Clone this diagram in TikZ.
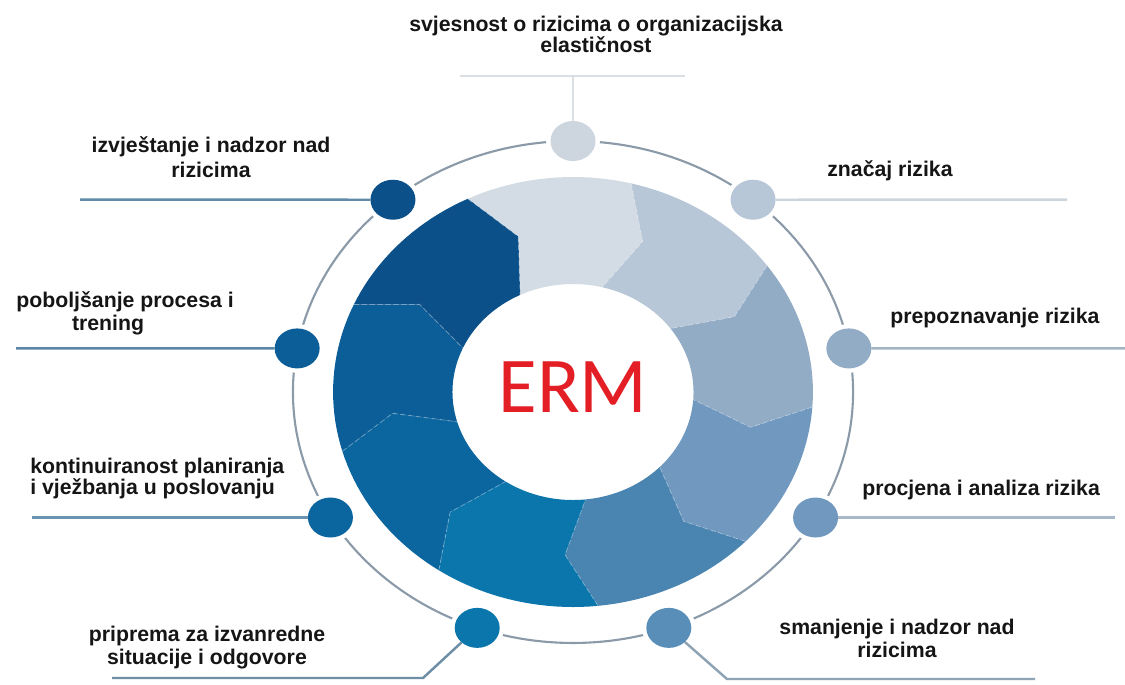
\documentclass[tikz,border=0pt]{standalone}
\usepackage{fontspec}
\setmainfont{Liberation Sans}
\newfontfamily\ermfont{Carlito}
\usetikzlibrary{shapes.geometric}
\definecolor{s0}{HTML}{D3DCE5}
\definecolor{s1}{HTML}{B8C7D7}
\definecolor{s2}{HTML}{92ACC6}
\definecolor{s3}{HTML}{7199BF}
\definecolor{s4}{HTML}{4A84B1}
\definecolor{s5}{HTML}{0B76AC}
\definecolor{s6}{HTML}{0B66A0}
\definecolor{s7}{HTML}{0B5E97}
\definecolor{s8}{HTML}{0B5088}
\definecolor{ringc}{HTML}{8A9AA8}
\definecolor{ermred}{HTML}{E31E24}
\definecolor{txt}{HTML}{151515}
\definecolor{l0}{HTML}{DADFE4}
\definecolor{l1}{HTML}{CDD5DC}
\definecolor{l2}{HTML}{A3B5C5}
\definecolor{l3}{HTML}{A7B9C8}
\definecolor{l4}{HTML}{8EA3B3}
\definecolor{l5}{HTML}{6E8EA6}
\definecolor{l6}{HTML}{6A93B2}
\definecolor{l7}{HTML}{5A86A6}
\definecolor{l8}{HTML}{5F8AA9}
\tikzset{
  dot/.style={ellipse, minimum width=0.9cm, minimum height=0.8cm, inner sep=0pt, outer sep=0pt,
    preaction={draw=white, line width=5pt}},
  conn/.style={line width=1.4pt},
  lbl/.style={font=\bfseries\fontsize{12.1}{13}\selectfont, text=txt, inner sep=0pt},
  seam/.style={white, opacity=0.3, line width=0.5pt, dash pattern=on 3pt off 1.5pt}
}
\begin{document}
\begin{tikzpicture}[x=0.02cm, y=-0.02cm]
\useasboundingbox (0,0) rectangle (1125,684);
\fill[white] (0,0) rectangle (1125,684);
\begin{scope}[shift={(573,392)}, x=0.022324cm, y=0.02cm]
  \foreach \b/\c in {76/s0, 36/s1, -4/s2, -44/s3, -84/s4, -124/s5, -164/s6, -204/s7, -244/s8} {
    \fill[fill=\c] ({\b+40}:215) -- plot[domain=\b+40:\b, samples=21] (\x:215)
      -- ({\b-8.5}:163) -- ({\b}:108) -- plot[domain=\b:\b+40, samples=21] (\x:108)
      -- ({\b+31.5}:163) -- cycle;
  }
  \foreach \b in {76, 36, -4, -44, -84, -124, -164, -204, -244} {
    \draw[seam] ({\b}:215) -- ({\b-8.5}:163) -- ({\b}:108);
  }
  \draw[ringc, line width=1.2pt] (0,0) ellipse [x radius=5.6024cm, y radius=5.02cm];
  \node[dot, fill=s0!97!black] (d0) at (90:251) {};
  \node[dot, fill=s1] (d1) at (50:251) {};
  \node[dot, fill=s2] (d2) at (10:251) {};
  \node[dot, fill=s3] (d3) at (-30:251) {};
  \node[dot, fill=s4!92!white] (d4) at (-70:251) {};
  \node[dot, fill=s5] (d5) at (-110:251) {};
  \node[dot, fill=s6] (d6) at (-150:251) {};
  \node[dot, fill=s7] (d7) at (170:251) {};
  \node[dot, fill=s8] (d8) at (130:251) {};
\end{scope}
\node[font=\ermfont\fontsize{45}{45}\selectfont, text=ermred, inner sep=0pt] (erm) at (573,387) {ERM};
% connector end points
\coordinate (e0) at (573,76);
\coordinate (h0a) at (460,76);
\coordinate (h0b) at (685,76);
\coordinate (e1) at (1067,199.7);
\coordinate (e2) at (1125,348.4);
\coordinate (e3) at (1115,517.5);
\coordinate (k4) at (727,679);
\coordinate (e4) at (1035,679);
\coordinate (k5) at (423,678);
\coordinate (e5) at (112,678);
\coordinate (e6) at (32,517.5);
\coordinate (e7) at (16,348.4);
\coordinate (e8) at (80,199.7);
\draw[conn, l0] (d0) -- (e0);
\draw[conn, l0] (h0a) -- (h0b);
\draw[conn, l1] (d1) -- (e1);
\draw[conn, l2] (d2) -- (e2);
\draw[conn, l3] (d3) -- (e3);
\draw[conn, l4] (d4) -- (k4) -- (e4);
\draw[conn, l5] (d5) -- (k5) -- (e5);
\draw[conn, l6] (d6) -- (e6);
\draw[conn, l7] (d7) -- (e7);
\draw[conn, l8] (d8) -- (e8);
% labels
\node[lbl, align=center, anchor=north, font=\bfseries\fontsize{12.1}{11.9}\selectfont] (t0) at (596,15.5) {svjesnost o rizicima o organizacijska\\elastičnost};
\node[lbl, anchor=base west] (t1) at (827,176.5) {značaj rizika};
\node[lbl, anchor=base west] (t2) at (890,323) {prepoznavanje rizika};
\node[lbl, anchor=base west] (t3) at (862,495) {procjena i analiza rizika};
\node[lbl, align=center, anchor=north] (t4) at (897,618.5) {smanjenje i nadzor nad\\rizicima};
\node[lbl, align=center, anchor=north] (t5) at (207,625.5) {priprema za izvanredne\\situacije i odgovore};
\node[lbl, align=left, anchor=north west, font=\bfseries\fontsize{12.1}{11.8}\selectfont] (t6) at (30,457.5) {kontinuiranost planiranja\\i vježbanja u poslovanju};
\node[lbl, align=left, anchor=north west] (t7) at (16,291.5) {poboljšanje procesa i\\\hspace*{31.7pt}trening};
\node[lbl, align=center, anchor=north, font=\bfseries\fontsize{12.1}{14.2}\selectfont] (t8) at (211,136.5) {izvještanje i nadzor nad\\rizicima};
\end{tikzpicture}
\end{document}
